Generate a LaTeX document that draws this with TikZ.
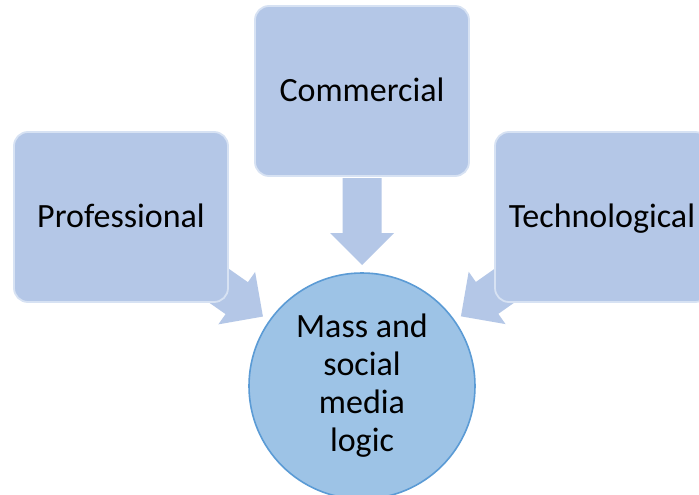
\documentclass[tikz,border=0pt]{standalone}
\usepackage{fontspec}
\setmainfont{Carlito}
\usetikzlibrary{calc}
\pgfdeclarelayer{backdrop}
\pgfdeclarelayer{background}
\pgfsetlayers{backdrop,background,main}
\definecolor{tilefill}{HTML}{B4C7E7}
\definecolor{tileline}{HTML}{D7E2F3}
\definecolor{hubfill}{HTML}{9DC3E6}
\definecolor{hubline}{HTML}{5B9BD5}
\tikzset{
  tile/.style={draw=tileline, line width=1.8pt, fill=tilefill, rounded corners=14pt,
    minimum width=214pt, minimum height=170pt, inner sep=0pt,
    font=\fontsize{34}{38}\selectfont, text height=20pt, text depth=0pt},
  hub/.style={draw=hubline, line width=1.6pt, fill=hubfill, circle,
    minimum size=226pt, inner sep=0pt, align=center,
    font=\fontsize{34}{38}\selectfont},
  feed/.style={fill=tilefill},
}
% block arrow from node #1 towards node #2, tip stopping short of #2
\newcommand\feedarrow[2]{%
  \coordinate (tip) at ($(#2.center)!121pt!(#1.center)$);
  \coordinate (hb) at ($(tip)!32pt!(#1.center)$);
  \coordinate (se) at ($(tip)!87pt!(#1.center)$);
  \fill[feed] (tip) -- ($(hb)!32pt!90:(tip)$) -- ($(hb)!19.5pt!90:(tip)$)
    -- ($(se)!19.5pt!90:(tip)$) -- ($(se)!19.5pt!-90:(tip)$)
    -- ($(hb)!19.5pt!-90:(tip)$) -- ($(hb)!32pt!-90:(tip)$) -- cycle;
}
\begin{document}
\begin{tikzpicture}[x=1pt, y=-1pt]
  \begin{pgfonlayer}{backdrop}
    \fill[white] (0,0) rectangle (699,495);
  \end{pgfonlayer}
  \useasboundingbox (0,0) rectangle (699,495);
  \node[tile] (prof) at (121,217) {Professional};
  \node[tile] (comm) at (362,91) {Commercial};
  \node[tile] (tech) at (602,217) {Technological};
  \node[hub] (hub) at (362,386) {Mass and\\social\\media\\logic};
  \begin{pgfonlayer}{background}
    \feedarrow{prof}{hub}
    \feedarrow{comm}{hub}
    \feedarrow{tech}{hub}
  \end{pgfonlayer}
\end{tikzpicture}
\end{document}
